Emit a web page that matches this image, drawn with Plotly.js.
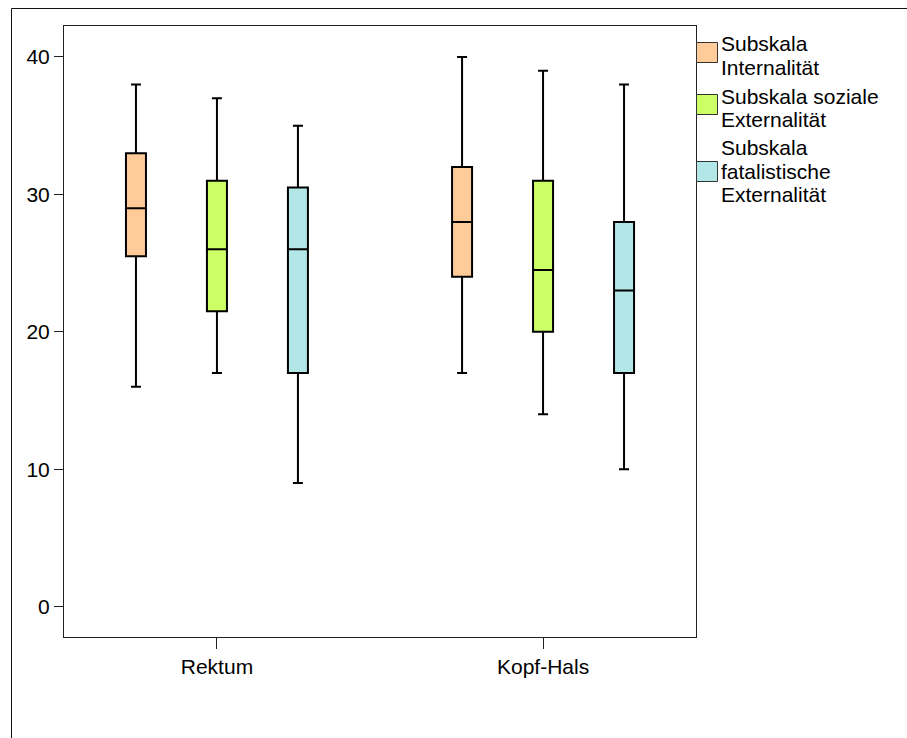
<!DOCTYPE html>
<html>
<head>
<meta charset="utf-8">
<script src="https://cdn.plot.ly/plotly-3.0.1.min.js"></script>
<style>
  html, body { margin: 0; padding: 0; background: #ffffff; }
  #chart { width: 907px; height: 738px; }
</style>
</head>
<body>
<div id="chart"></div>
<script>
// ---- data ----
const categories = ['Rektum', 'Kopf-Hals'];
const seriesNames = ['Subskala Internalität', 'Subskala soziale Externalität', 'Subskala fatalistische Externalität'];
const legendLines = [
  ['Subskala', 'Internalität'],
  ['Subskala soziale', 'Externalität'],
  ['Subskala', 'fatalistische', 'Externalität']
];
const seriesColors = ['#FFCC99', '#CCFF66', '#B3E6E6'];

const internLower  = [16, 17];
const internQ1     = [25.5, 24];
const internMedian = [29, 28];
const internQ3     = [33, 32];
const internUpper  = [38, 40];

const sozialLower  = [17, 14];
const sozialQ1     = [21.5, 20];
const sozialMedian = [26, 24.5];
const sozialQ3     = [31, 31];
const sozialUpper  = [37, 39];

const fatalLower  = [9, 10];
const fatalQ1     = [17, 17];
const fatalMedian = [26, 23];
const fatalQ3     = [30.5, 28];
const fatalUpper  = [35, 38];

const yTicks = [0, 10, 20, 30, 40];

// ---- build traces ----
const stats = [
  [internLower, internQ1, internMedian, internQ3, internUpper],
  [sozialLower, sozialQ1, sozialMedian, sozialQ3, sozialUpper],
  [fatalLower, fatalQ1, fatalMedian, fatalQ3, fatalUpper]
];
const traces = stats.map((s, i) => ({
  type: 'box',
  name: seriesNames[i],
  x: categories,
  lowerfence: s[0],
  q1: s[1],
  median: s[2],
  q3: s[3],
  upperfence: s[4],
  boxpoints: false,
  fillcolor: seriesColors[i],
  line: { color: '#000000', width: 2 },
  whiskerwidth: 0.5,
  showlegend: false,
  hoverinfo: 'skip'
}));

// ---- layout geometry (pixels) ----
const W = 907, H = 738;
const mL = 64, mT = 26, mR = 211, mB = 101;
const pw = W - mL - mR, ph = H - mT - mB;
const px = x => (x - mL) / pw;
const py = y => (H - mB - y) / ph;

const font = { family: 'Liberation Sans, Arial, sans-serif', size: 21, color: '#000000' };

const shapes = [
  // outer frame (left and top edges)
  { type: 'line', xref: 'paper', yref: 'paper', x0: px(11.5), x1: px(11.5), y0: py(8.5), y1: py(760), line: { color: '#111', width: 1 } },
  { type: 'line', xref: 'paper', yref: 'paper', x0: px(11.5), x1: px(930), y0: py(8.5), y1: py(8.5), line: { color: '#111', width: 1 } }
];
const annotations = [];
const swatchTops = [42.5, 94.5, 161.5];
const lineCenters = [[44, 67.5], [96, 119.5], [147.5, 171, 194]];
legendLines.forEach((lines, i) => {
  shapes.push({
    type: 'rect', xref: 'paper', yref: 'paper',
    x0: px(696.5), x1: px(717.5), y0: py(swatchTops[i]), y1: py(swatchTops[i] + 20),
    fillcolor: seriesColors[i], line: { color: '#333', width: 1 }
  });
  lines.forEach((t, j) => {
    annotations.push({
      xref: 'paper', yref: 'paper', x: px(719.5), y: py(lineCenters[i][j]),
      xanchor: 'left', yanchor: 'middle', text: t, showarrow: false,
      font: font, borderpad: 0
    });
  });
});

const layout = {
  width: W, height: H,
  margin: { l: mL, r: mR, t: mT, b: mB, pad: 0 },
  paper_bgcolor: '#ffffff', plot_bgcolor: '#ffffff',
  font: font,
  showlegend: false,
  boxmode: 'group',
  boxgap: 0.255,
  boxgroupgap: 0.753,
  xaxis: {
    type: 'category',
    range: [-0.469, 1.469],
    showline: true, mirror: true, linecolor: '#222', linewidth: 1,
    ticks: 'outside', ticklen: 11, tickcolor: '#222', tickwidth: 1,
    showgrid: false, zeroline: false,
    tickfont: font,
    fixedrange: true
  },
  yaxis: {
    range: [-2.2, 42.25],
    tickvals: yTicks,
    ticktext: yTicks.map(String),
    showline: true, mirror: true, linecolor: '#222', linewidth: 1,
    ticks: 'outside', ticklen: 9, tickcolor: '#222', tickwidth: 1,
    showgrid: false, zeroline: false,
    tickfont: font,
    fixedrange: true
  },
  shapes: shapes,
  annotations: annotations
};

Plotly.newPlot('chart', traces, layout, { displayModeBar: false, staticPlot: true });
</script>
</body>
</html>
